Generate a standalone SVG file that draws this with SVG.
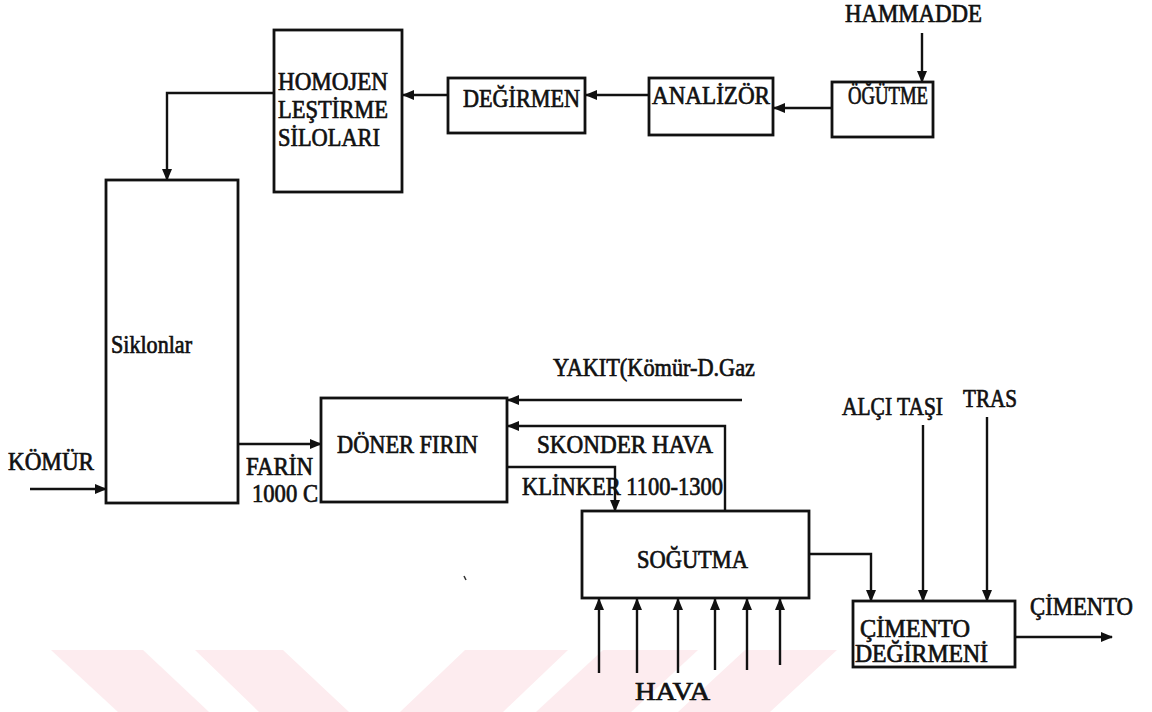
<svg xmlns="http://www.w3.org/2000/svg" width="1152" height="712" viewBox="0 0 1152 712">
<style>
.box{fill:none;stroke:#111;stroke-width:2.8}
.ln{fill:none;stroke:#111;stroke-width:2.4}
.arr{marker-end:url(#ah)}
.t{font-size:25px;fill:#111;stroke:#111;stroke-width:0.7}
.wm{fill:#fdecef}
</style>
<defs>
<marker id="ah" markerUnits="userSpaceOnUse" markerWidth="12" markerHeight="10" refX="11" refY="5" orient="auto">
<path d="M0,0 L12,5 L0,10 z" fill="#111"/>
</marker>
</defs>
<rect width="1152" height="712" fill="#fff"/>
<g id="watermark">
<polygon class="wm" points="51,650 143,650 209,712 118,712"/>
<polygon class="wm" points="195,650 283,650 349,712 259,712"/>
<polygon class="wm" points="465,650 568,650 503,712 400,712"/>
<polygon class="wm" points="603,650 698,650 631,712 536,712"/>
<polygon class="wm" points="745,650 837,650 770,712 678,712"/>
</g>
<g id="connectors">
<path class="ln arr" d="M922,33 V82"/>
<path class="ln arr" d="M832,108 H774"/>
<path class="ln arr" d="M649,95 H586"/>
<path class="ln arr" d="M448,95 H403"/>
<path class="ln arr" d="M274,93 H167 V180"/>
<path class="ln arr" d="M30,489 H106"/>
<path class="ln arr" d="M238,444 H321"/>
<path class="ln arr" d="M742,400 H508"/>
<path class="ln arr" d="M725,510 V426 H508"/>
<path class="ln arr" d="M508,467 H615 V511"/>
<path class="ln arr" d="M809,554 H871 V601"/>
<path class="ln arr" d="M923,425 V601"/>
<path class="ln arr" d="M987,417 V601"/>
<path class="ln arr" d="M1015,637 H1112"/>
<path class="ln arr" d="M599,673 V599"/>
<path class="ln arr" d="M637,673 V599"/>
<path class="ln arr" d="M678,673 V599"/>
<path class="ln arr" d="M715,670 V599"/>
<path class="ln arr" d="M747,670 V599"/>
<path class="ln arr" d="M780,665 V599"/>
</g>
<g font-family="'Liberation Serif', 'Times New Roman', 'DejaVu Serif', serif">
<g id="hammadde"><text class="t" x="845" y="22" textLength="137" lengthAdjust="spacingAndGlyphs">HAMMADDE</text></g>
<g id="ogutme"><rect class="box" x="832" y="82" width="101" height="55"/><text class="t" x="848" y="104" textLength="80" lengthAdjust="spacingAndGlyphs">ÖĞÜTME</text></g>
<g id="analizor"><rect class="box" x="649" y="78" width="124" height="57"/><text class="t" x="652" y="104" textLength="118" lengthAdjust="spacingAndGlyphs">ANALİZÖR</text></g>
<g id="degirmen"><rect class="box" x="448" y="78" width="137" height="55"/><text class="t" x="463" y="107" textLength="117" lengthAdjust="spacingAndGlyphs">DEĞİRMEN</text></g>
<g id="homojen"><rect class="box" x="274" y="30" width="128" height="162"/>
<text class="t" x="278" y="90" textLength="110" lengthAdjust="spacingAndGlyphs">HOMOJEN</text>
<text class="t" x="278" y="118" textLength="110" lengthAdjust="spacingAndGlyphs">LEŞTİRME</text>
<text class="t" x="278" y="146" textLength="102" lengthAdjust="spacingAndGlyphs">SİLOLARI</text></g>
<g id="siklonlar"><rect class="box" x="106" y="180" width="132" height="323"/><text class="t" x="111" y="353" textLength="81" lengthAdjust="spacingAndGlyphs">Siklonlar</text></g>
<g id="komur"><text class="t" x="8" y="470" textLength="86" lengthAdjust="spacingAndGlyphs">KÖMÜR</text></g>
<g id="farin"><text class="t" x="246" y="475" textLength="67" lengthAdjust="spacingAndGlyphs">FARİN</text><text class="t" x="252" y="502" textLength="66" lengthAdjust="spacingAndGlyphs">1000 C</text></g>
<g id="doner-firin"><rect class="box" x="321" y="398" width="186" height="104"/><text class="t" x="337" y="453" textLength="141" lengthAdjust="spacingAndGlyphs">DÖNER FIRIN</text></g>
<g id="yakit"><text class="t" x="553" y="376" textLength="202" lengthAdjust="spacingAndGlyphs" stroke-width="0.2">YAKIT(Kömür-D.Gaz</text></g>
<g id="skonder"><text class="t" x="537" y="453" textLength="176" lengthAdjust="spacingAndGlyphs">SKONDER HAVA</text></g>
<g id="klinker"><text class="t" x="522" y="495" textLength="201" lengthAdjust="spacingAndGlyphs">KLİNKER 1100-1300</text></g>
<g id="sogutma"><rect class="box" x="582" y="511" width="227" height="87"/><text class="t" x="637" y="568" textLength="111" lengthAdjust="spacingAndGlyphs">SOĞUTMA</text></g>
<g id="hava"><text class="t" x="635" y="700" textLength="75" lengthAdjust="spacingAndGlyphs">HAVA</text></g>
<g id="alci"><text class="t" x="842" y="415" textLength="101" lengthAdjust="spacingAndGlyphs">ALÇI TAŞI</text></g>
<g id="tras"><text class="t" x="963" y="407" textLength="54" lengthAdjust="spacingAndGlyphs">TRAS</text></g>
<g id="cimento-degirmeni"><rect class="box" x="853" y="601" width="162" height="66"/>
<text class="t" x="860" y="637" textLength="110" lengthAdjust="spacingAndGlyphs">ÇİMENTO</text>
<text class="t" x="855" y="662" textLength="133" lengthAdjust="spacingAndGlyphs">DEĞİRMENİ</text></g>
<g id="cimento"><text class="t" x="1030" y="615" textLength="103" lengthAdjust="spacingAndGlyphs">ÇİMENTO</text></g>
</g>
<path d="M464,576 L466,580" stroke="#333" stroke-width="1.5"/>
</svg>
